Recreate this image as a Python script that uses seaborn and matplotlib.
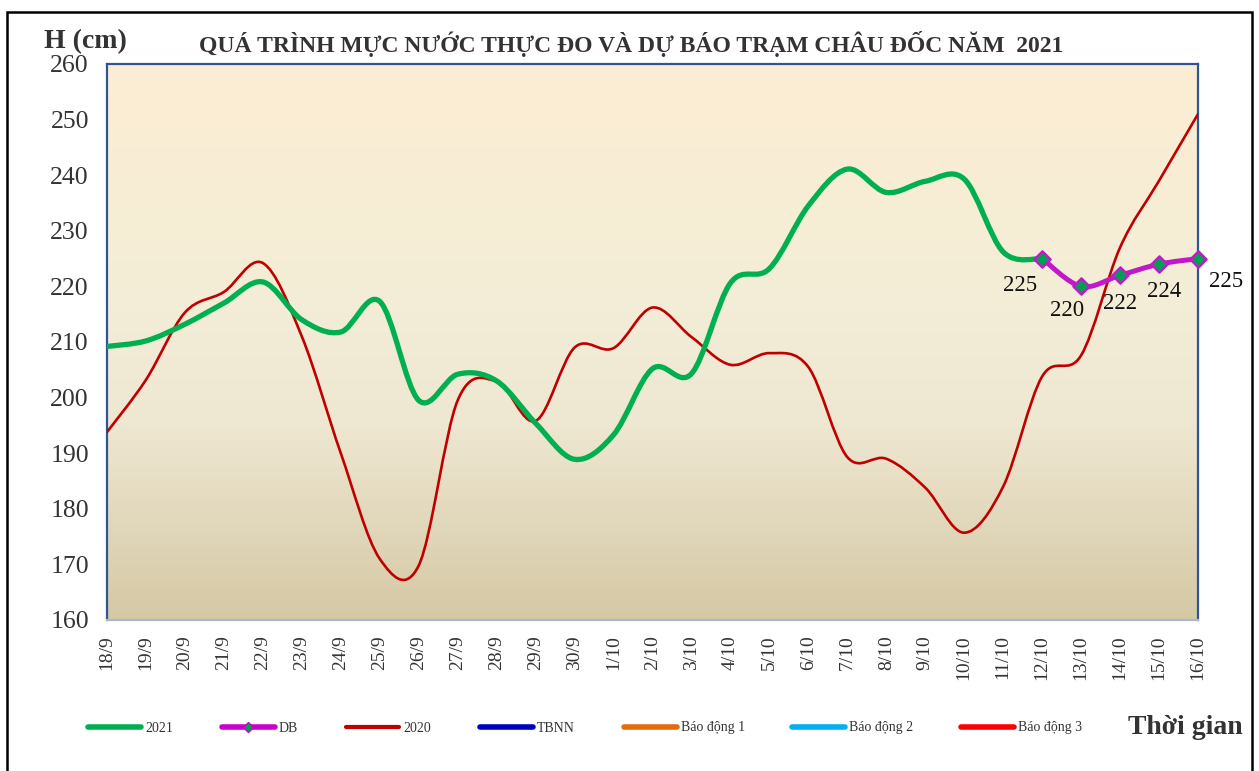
import matplotlib
matplotlib.use("Agg")
import matplotlib.pyplot as plt
import numpy as np
import pandas as pd
import seaborn as sns
from matplotlib.lines import Line2D
from matplotlib.patches import PathPatch, Rectangle
from matplotlib.path import Path
from matplotlib.colors import LinearSegmentedColormap

DATES = ["18/9", "19/9", "20/9", "21/9", "22/9", "23/9", "24/9", "25/9", "26/9",
         "27/9", "28/9", "29/9", "30/9", "1/10", "2/10", "3/10", "4/10", "5/10",
         "6/10", "7/10", "8/10", "9/10", "10/10", "11/10", "12/10", "13/10",
         "14/10", "15/10", "16/10"]

# measured 2021 (18/9 -> 12/10)
H_2021 = [209.2, 210.2, 213.2, 217, 220.8, 214, 211.8, 217.3, 199.5, 204.2, 203,
          195.4, 188.9, 193.3, 205.2, 204.3, 220.6, 223.2, 234.5, 241.1, 236.9,
          238.9, 239.3, 226.2, 225]
# forecast (12/10 -> 16/10)
DB_DATES = ["12/10", "13/10", "14/10", "15/10", "16/10"]
H_DB = [225, 220, 222, 224, 225]
# same period 2020
H_2020 = [193.8, 203.2, 215.3, 219, 224.2, 211, 190, 171, 169.8, 199.5, 202.9,
          195.8, 209, 208.9, 216.2, 210.9, 205.9, 208, 205.5, 189.3, 189, 183.8,
          175.7, 184, 203.8, 207.6, 227, 239, 251]

LEGEND_ITEMS = [
    ("2021", "#00B050", 4.0, None),
    ("DB", "#CC00CC", 4.0, "D"),
    ("2020", "#C00000", 3.0, None),
    ("TBNN", "#0000C0", 4.0, None),
    ("Báo động 1", "#E46C0A", 4.0, None),
    ("Báo động 2", "#00B0F0", 4.0, None),
    ("Báo động 3", "#FF0000", 4.0, None),
]
LEGEND_X = [88, 222, 346, 480, 624, 792, 961]

W, H = 1259, 771

sns.set_theme(style="white")
plt.rcParams["font.family"] = ["Liberation Serif", "DejaVu Serif"]
plt.rcParams["text.color"] = "#333333"


def smooth_path(x, y):
    # Excel-style smoothed line: cubic Bezier segments through every point
    pts = np.column_stack([x, y]).astype(float)
    p = np.vstack([pts[0], pts, pts[-1]])
    verts = [pts[0]]
    codes = [Path.MOVETO]
    for i in range(len(pts) - 1):
        p0, p1, p2, p3 = p[i], p[i + 1], p[i + 2], p[i + 3]
        verts += [p1 + (p2 - p0) / 6, p2 - (p3 - p1) / 6, p2]
        codes += [Path.CURVE4] * 3
    return Path(verts, codes)


idx = {d: i for i, d in enumerate(DATES)}
df20 = pd.DataFrame({"x": [idx[d] for d in DATES], "h": H_2020})
df21 = pd.DataFrame({"x": [idx[d] for d in DATES[:len(H_2021)]], "h": H_2021})
dfdb = pd.DataFrame({"x": [idx[d] for d in DB_DATES], "h": H_DB})

fig = plt.figure(figsize=(W / 100, H / 100), dpi=100)
ax = fig.add_axes([107 / W, 1 - 620 / H, (1198 - 107) / W, (620 - 64) / H])

# gradient plot area background
grad = LinearSegmentedColormap.from_list(
    "bg", [(0.0, "#D5C8A5"), (0.35, "#EEE7D1"), (0.6, "#F4EDD7"), (1.0, "#FCEED3")])
ax.imshow(np.linspace(0, 1, 256).reshape(-1, 1), cmap=grad, aspect="auto",
          extent=[0, 1, 0, 1], transform=ax.transAxes, origin="lower", zorder=0)

ax.set_xlim(0, len(DATES) - 1)
ax.set_ylim(160, 260)

ax.add_patch(PathPatch(smooth_path(df20["x"], df20["h"]), fill=False,
                       edgecolor="#C00000", lw=1.9, zorder=3, capstyle="round"))
ax.add_patch(PathPatch(smooth_path(df21["x"], df21["h"]), fill=False,
                       edgecolor="#00B050", lw=3.8, zorder=4, capstyle="round"))
ax.add_patch(PathPatch(smooth_path(dfdb["x"], dfdb["h"]), fill=False,
                       edgecolor="#C219C8", lw=3.6, zorder=5, capstyle="round"))
sns.scatterplot(data=dfdb, x="x", y="h", marker="D", s=70, color="#00A050",
                edgecolor="#C219C8", linewidth=1.6, zorder=6, ax=ax, clip_on=False)

label_offsets = [(-22, -27), (-14, -24), (0, -28), (5, -27), (28, -23)]
for (x, h), (dx, dy) in zip(dfdb[["x", "h"]].values, label_offsets):
    ax.annotate(f"{h:.0f}", (x, h), xytext=(dx, dy), textcoords="offset pixels",
                ha="center", va="center", fontsize=16.5, color="#111111",
                annotation_clip=False, zorder=7)

ax.set_xticks(range(len(DATES)))
ax.set_xticklabels(DATES, rotation=90, fontsize=14, color="#333333")
ax.set_yticks(np.arange(160, 261, 10))
ax.set_yticklabels([str(v) for v in range(160, 261, 10)], fontsize=18.5, color="#333333")
ax.tick_params(axis="x", length=0, pad=11)
ax.tick_params(axis="y", length=0, pad=13)
ax.set_xlabel("")
ax.set_ylabel("")
ax.grid(False)
for side in ["left", "top", "right"]:
    ax.spines[side].set_color("#2F5597")
    ax.spines[side].set_linewidth(1.6)
ax.spines["bottom"].set_color("#A9B7CB")
ax.spines["bottom"].set_linewidth(1.6)

fig.text(85 / W, 1 - 42 / H, "H (cm)", fontsize=20, fontweight="bold",
         ha="center", va="center")
fig.text(631 / W, 1 - 44 / H,
         "QUÁ TRÌNH MỰC NƯỚC THỰC ĐO VÀ DỰ BÁO TRẠM CHÂU ĐỐC NĂM  2021",
         fontsize=17, fontweight="bold", ha="center", va="center")
fig.text(1185 / W, 1 - 728 / H, "Thời gian", fontsize=20, fontweight="bold",
         ha="center", va="center")

for (name, color, lw, marker), xpx in zip(LEGEND_ITEMS, LEGEND_X):
    handle = Line2D([], [], color=color, lw=lw, marker=marker, markersize=5,
                    markerfacecolor="#00A050", markeredgecolor=color)
    fig.legend(handles=[handle], labels=[name], loc="center left",
               bbox_to_anchor=(xpx / W, 1 - 728 / H), frameon=False,
               fontsize=10, handlelength=3.8, handletextpad=0.3,
               borderpad=0, borderaxespad=0, labelcolor="#333333")

fig.patches.append(Rectangle((7 / W, -0.02), (1252 - 7) / W, 1.02 - 12 / H,
                             transform=fig.transFigure, fill=False,
                             edgecolor="black", lw=1.8, clip_on=False))

fig.savefig("out.png", dpi=100)
